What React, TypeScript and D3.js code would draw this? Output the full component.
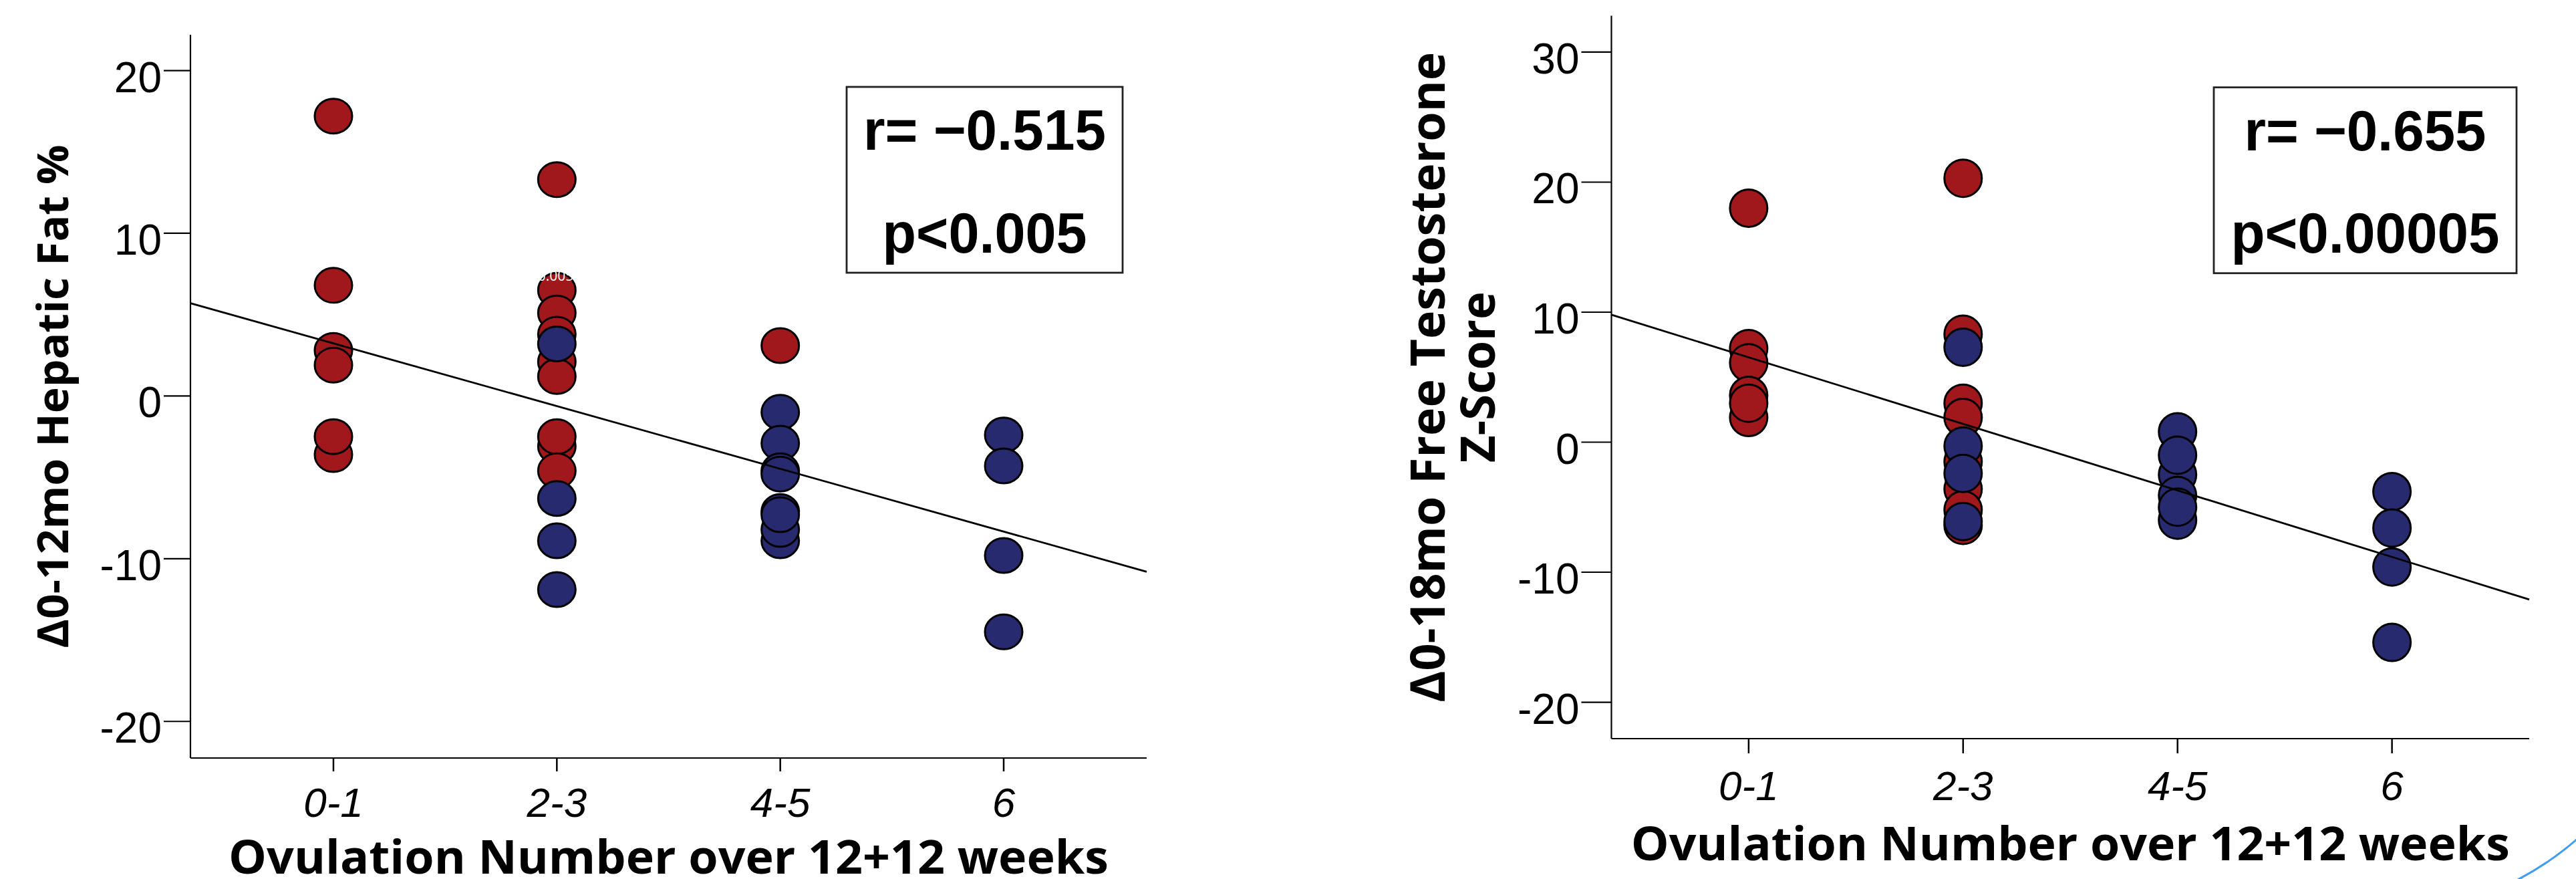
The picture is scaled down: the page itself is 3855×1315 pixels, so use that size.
import React from "react";
import * as d3 from "d3";

// ---------- data ----------
const categories = ["0-1", "2-3", "4-5", "6"];
const xTitle = "Ovulation Number over 12+12 weeks";

// Left panel: Δ0-12mo Hepatic Fat %
const hepaticRed: [string, number][] = [
  ["0-1", 17.2], ["0-1", 6.8], ["0-1", 2.8], ["0-1", 1.9], ["0-1", -3.6], ["0-1", -2.5],
  ["2-3", 13.3], ["2-3", 6.5], ["2-3", 5.1], ["2-3", 3.8], ["2-3", 2.1], ["2-3", 1.2],
  ["2-3", -3.1], ["2-3", -2.5], ["2-3", -4.6],
  ["4-5", 3.1],
];
const hepaticBlue: [string, number][] = [
  ["2-3", 3.2], ["2-3", -6.3], ["2-3", -8.9], ["2-3", -11.9],
  ["4-5", -1.0], ["4-5", -2.9], ["4-5", -4.6], ["4-5", -4.8], ["4-5", -8.9], ["4-5", -8.2], ["4-5", -7.1], ["4-5", -7.3],
  ["6", -2.4], ["6", -4.3], ["6", -9.8], ["6", -14.5],
];
const hepaticYTicks = [20, 10, 0, -10, -20];
const hepaticFit = [5.7, -10.8]; // fitted value at left and right end of x-axis
const hepaticStats = ["r= \u22120.515", "p<0.005"];
const hepaticYTitle = ["\u03940-12mo Hepatic Fat %"];

// Right panel: Δ0-18mo Free Testosterone Z-Score
const testoRed: [string, number][] = [
  ["0-1", 18.0], ["0-1", 7.2], ["0-1", 6.1], ["0-1", 1.9], ["0-1", 3.6], ["0-1", 3.0],
  ["2-3", 20.3], ["2-3", 8.3], ["2-3", 3.0], ["2-3", 1.9], ["2-3", -1.5], ["2-3", -3.6], ["2-3", -5.2], ["2-3", -6.4],
];
const testoBlue: [string, number][] = [
  ["2-3", 7.3], ["2-3", -0.3], ["2-3", -2.4], ["2-3", -6.1],
  ["4-5", 0.8], ["4-5", -2.5], ["4-5", -1.0], ["4-5", -4.1], ["4-5", -6.0], ["4-5", -5.0],
  ["6", -3.8], ["6", -6.6], ["6", -9.6], ["6", -15.4],
];
const testoYTicks = [30, 20, 10, 0, -10, -20];
const testoFit = [9.8, -12.1];
const testoStats = ["r= \u22120.655", "p<0.00005"];
const testoYTitle = ["\u03940-18mo Free Testosterone", "Z-Score"];

// ---------- styles ----------
const RED = "#A0171C";
const BLUE = "#282A6F";
const TITLE_FONT = "'Open Sans', 'Noto Sans', 'DejaVu Sans', sans-serif";
const TICK_FONT = "'Liberation Sans', Arial, sans-serif";

type Layout = {
  xL: number; xR: number; yT: number; yB: number;
  yDomain: [number, number];
  rx: number; ry: number;
  yTickLen: number; xTickLen: number;
  box: { x: number; y: number; w: number; h: number };
  statW: number[];
  yTitleFs: number; yTitleBase: number[]; yTitleLen: number[];
  xTitleBase: number; xTitleLen: number;
  xTickBase: number;
  ghost?: boolean;
};

const leftLayout: Layout = {
  xL: 285, xR: 1716, yT: 52, yB: 1134,
  yDomain: [-22.25, 22.2],
  rx: 28, ry: 26,
  yTickLen: 40, xTickLen: 20,
  box: { x: 1267, y: 130, w: 413, h: 278 },
  statW: [363, 306],
  yTitleFs: 65, yTitleBase: [101.7], yTitleLen: [753],
  xTitleBase: 1306.7, xTitleLen: 1317,
  xTickBase: 1222,
  ghost: true,
};

const rightLayout: Layout = {
  xL: 2411.5, xR: 3785, yT: 23.5, yB: 1105,
  yDomain: [-22.8, 32.8],
  rx: 28, ry: 28,
  yTickLen: 45, xTickLen: 22,
  box: { x: 3313, y: 130.7, w: 453, h: 278 },
  statW: [362, 402],
  yTitleFs: 72, yTitleBase: [2161.7, 2236.7], yTitleLen: [973, 256],
  xTitleBase: 1287, xTitleLen: 1315,
  xTickBase: 1197,
};

function Panel({
  L, red, blue, yTicks, fit, stats, yTitle,
}: {
  L: Layout; red: [string, number][]; blue: [string, number][];
  yTicks: number[]; fit: number[]; stats: string[]; yTitle: string[];
}) {
  const x = d3.scalePoint<string>().domain(categories).range([L.xL, L.xR]).padding(0.64);
  const y = d3.scaleLinear().domain(L.yDomain).range([L.yB, L.yT]);
  const xLin = d3.scaleLinear().domain([0, 1]).range([L.xL, L.xR]);
  const fitLine = d3.line<number>()
    .x((_, i) => xLin(i))
    .y((d) => y(d));
  const yMid = (L.yT + L.yB) / 2;
  const xMid = (L.xL + L.xR) / 2;
  const bx = L.box.x + L.box.w / 2;

  const marker = (d: [string, number], i: number, fill: string) => (
    <ellipse key={fill + i} cx={x(d[0])} cy={y(d[1])} rx={L.rx} ry={L.ry}
      fill={fill} stroke="#000" strokeWidth={3} />
  );

  return (
    <g>
      {/* axes */}
      <line x1={L.xL} x2={L.xL} y1={L.yT} y2={L.yB} stroke="#000" strokeWidth={2.2} />
      <line x1={L.xL} x2={L.xR} y1={L.yB} y2={L.yB} stroke="#000" strokeWidth={2.2} />
      {yTicks.map((t) => (
        <g key={"yt" + t}>
          <line x1={L.xL - L.yTickLen} x2={L.xL} y1={y(t)} y2={y(t)} stroke="#000" strokeWidth={2.2} />
          <text x={L.xL - L.yTickLen - 3} y={y(t) + 32} textAnchor="end"
            fontFamily={TICK_FONT} fontSize={64} fill="#000">{String(t)}</text>
        </g>
      ))}
      {categories.map((c) => (
        <g key={"xt" + c}>
          <line x1={x(c)} x2={x(c)} y1={L.yB} y2={L.yB + L.xTickLen} stroke="#000" strokeWidth={2.5} />
          <text x={x(c)} y={L.xTickBase} textAnchor="middle" fontStyle="italic"
            fontFamily={TICK_FONT} fontSize={62} fill="#000">{c}</text>
        </g>
      ))}

      {/* points */}
      {red.map((d, i) => marker(d, i, RED))}
      {blue.map((d, i) => marker(d, i, BLUE))}

      {L.ghost && (
        <text x={(x("2-3") as number) + 25} y={y(6.5) - 14} textAnchor="end"
          fontFamily={TITLE_FONT} fontSize={21} fill="#fff">p&lt;0.005</text>
      )}

      {/* regression line */}
      <path d={fitLine(fit) || ""} fill="none" stroke="#000" strokeWidth={2.8} />

      {/* stats box */}
      <rect x={L.box.x} y={L.box.y} width={L.box.w} height={L.box.h}
        fill="#fff" stroke="#222" strokeWidth={2.8} />
      {stats.map((s, i) => (
        <text key={s} x={bx} y={L.box.y + 94 + i * 153.5} textAnchor="middle"
          fontFamily={"'Liberation Sans', Arial, sans-serif"} fontWeight={700} fontSize={86}
          textLength={L.statW[i]} lengthAdjust="spacingAndGlyphs" fill="#000">{s}</text>
      ))}

      {/* y title */}
      {yTitle.map((t, i) => (
        <text key={t} transform={`translate(${L.yTitleBase[i]},${yMid}) rotate(-90)`}
          textAnchor="middle" fontFamily={TITLE_FONT} fontWeight={700} fontSize={L.yTitleFs}
          textLength={L.yTitleLen[i]} lengthAdjust="spacingAndGlyphs" fill="#000">{t}</text>
      ))}

      {/* x title */}
      <text x={xMid} y={L.xTitleBase} textAnchor="middle" fontFamily={TITLE_FONT}
        fontWeight={700} fontSize={70} textLength={L.xTitleLen} lengthAdjust="spacingAndGlyphs"
        fill="#000">{xTitle}</text>
    </g>
  );
}

export default function App() {
  return (
    <svg width={3855} height={1315} viewBox="0 0 3855 1315"
      style={{ position: "absolute", left: 0, top: 0, background: "#fff" }}>
      <rect x={0} y={0} width={3855} height={1315} fill="#fff" />
      <Panel L={leftLayout} red={hepaticRed} blue={hepaticBlue} yTicks={hepaticYTicks}
        fit={hepaticFit} stats={hepaticStats} yTitle={hepaticYTitle} />
      <Panel L={rightLayout} red={testoRed} blue={testoBlue} yTicks={testoYTicks}
        fit={testoFit} stats={testoStats} yTitle={testoYTitle} />
      <path d="M3764,1318 Q3815,1292 3858,1254" fill="none" stroke="#3f9df2" strokeWidth={3} />
    </svg>
  );
}
